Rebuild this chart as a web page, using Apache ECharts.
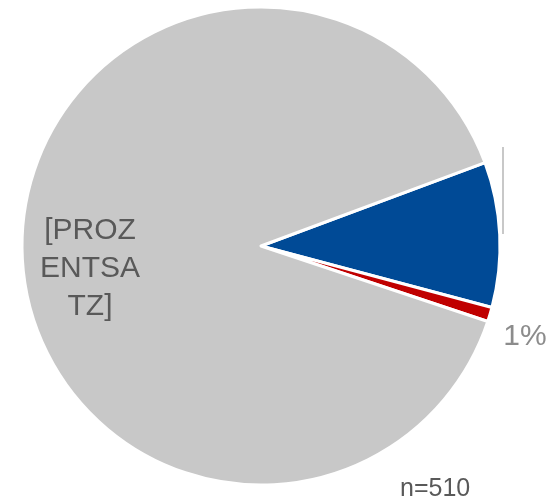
<!DOCTYPE html>
<html>
<head>
<meta charset="utf-8">
<script src="https://cdn.jsdelivr.net/npm/echarts@6/dist/echarts.min.js"></script>
<style>
  html, body { margin: 0; padding: 0; background: #fff; }
  #main { width: 558px; height: 503px; }
</style>
</head>
<body>
<div id="main"></div>
<script>
var categories = ['Kategorie A', 'Kategorie B', 'Kategorie C'];
var counts = [50, 5, 455];
var labels = ['', '1%', '[PROZ\nENTSA\nTZ]'];
var labelColors = ['#595959', '#8c8c8c', '#595959'];
var colors = ['#004a96', '#c00000', '#c8c8c8'];
var note = 'n=510';

var chart = echarts.init(document.getElementById('main'));

var data = [];
for (var i = 0; i < categories.length; i++) {
    data.push({
        name: categories[i],
        value: counts[i],
        itemStyle: { color: colors[i] },
        label: { show: labels[i] !== '', color: labelColors[i] }
    });
}

chart.setOption({
    backgroundColor: '#fff',
    animation: false,
    title: {
        text: note,
        left: 400,
        top: 477,
        textStyle: {
            fontFamily: 'Liberation Sans',
            fontSize: 25,
            fontWeight: 'normal',
            color: '#595959'
        },
        padding: 0
    },
    graphic: [{
        type: 'line',
        shape: { x1: 503, y1: 147, x2: 503, y2: 234 },
        style: { stroke: '#c8c8c8', lineWidth: 2 }
    }],
    series: [{
        type: 'pie',
        center: [261, 246],
        radius: [0, 239],
        startAngle: 20.4,
        clockwise: true,
        data: data,
        itemStyle: {
            borderColor: '#fff',
            borderWidth: 3
        },
        label: {
            position: 'inside',
            formatter: function (p) { return labels[p.dataIndex]; },
            fontFamily: 'Liberation Sans',
            fontSize: 30,
            lineHeight: 38,
            align: 'center'
        },
        labelLine: { show: false },
        labelLayout: function (p) {
            if (p.dataIndex === 1) {
                return { x: 525, y: 337, align: 'center', verticalAlign: 'middle' };
            }
            if (p.dataIndex === 2) {
                return { x: 90, y: 269, align: 'center', verticalAlign: 'middle' };
            }
            return {};
        },
        emphasis: { disabled: true }
    }]
});
</script>
</body>
</html>
